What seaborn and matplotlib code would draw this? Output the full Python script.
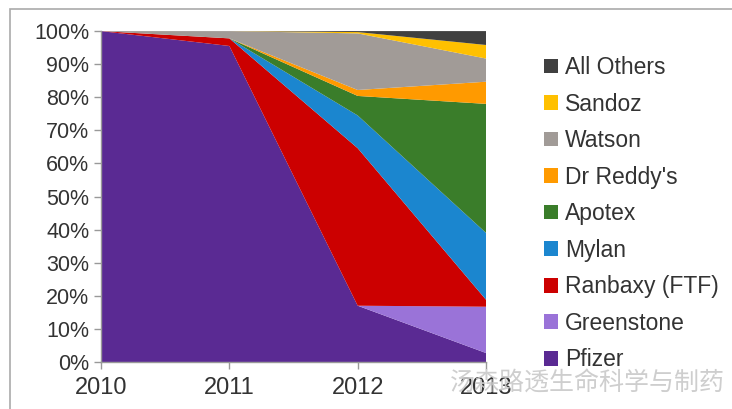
import matplotlib
matplotlib.use("Agg")
import matplotlib.pyplot as plt
import matplotlib.patches as mpatches
import seaborn as sns
import pandas as pd

years = [2010, 2011, 2012, 2013]
companies = ["Pfizer", "Greenstone", "Ranbaxy (FTF)", "Mylan", "Apotex",
             "Dr Reddy's", "Watson", "Sandoz", "All Others"]

# market share (%) per year
pfizer = [100.0, 95.5, 17.0, 2.7]
greenstone = [0.0, 0.0, 0.0, 14.0]
ranbaxy = [0.0, 2.3, 47.6, 2.1]
mylan = [0.0, 0.0, 9.9, 20.2]
apotex = [0.0, 0.0, 5.9, 39.0]
dr_reddys = [0.0, 0.0, 1.8, 6.7]
watson = [0.0, 2.2, 17.1, 7.0]
sandoz = [0.0, 0.0, 0.4, 4.1]
all_others = [0.0, 0.0, 0.3, 4.2]

colors = ["#5a2a93", "#9a73d8", "#cc0000", "#1b86cf", "#3a7d2a",
          "#ff9a00", "#a19b97", "#ffc000", "#404040"]

df = pd.DataFrame({
    "Pfizer": pfizer, "Greenstone": greenstone, "Ranbaxy (FTF)": ranbaxy,
    "Mylan": mylan, "Apotex": apotex, "Dr Reddy's": dr_reddys,
    "Watson": watson, "Sandoz": sandoz, "All Others": all_others,
}, index=years)

sns.set_theme(style="white")
plt.rcParams["font.family"] = ["Liberation Sans", "DejaVu Sans"]
text_col = "#333333"

fig = plt.figure(figsize=(7.32, 4.09), dpi=100)
ax = fig.add_axes([0.138, 0.115, 0.526, 0.809])

ax.stackplot(df.index, [df[c] for c in companies], colors=colors,
             edgecolor="none", linewidth=0)

ax.set_xlim(2010, 2013)
ax.set_ylim(0, 100)
ax.set_xticks(years)
ax.set_xticklabels([str(y) for y in years], fontsize=17, color=text_col)
ax.set_yticks(range(0, 101, 10))
ax.set_yticklabels([f"{v}%" for v in range(0, 101, 10)], fontsize=15.5, color=text_col)
ax.tick_params(axis="both", direction="out", length=5, width=1, color="#999999",
               left=True, bottom=True)
ax.tick_params(axis="x", pad=6)
for s in ["top", "right"]:
    ax.spines[s].set_visible(False)
for s in ["left", "bottom"]:
    ax.spines[s].set_color("#999999")
    ax.spines[s].set_linewidth(1)

handles = [mpatches.Patch(facecolor=c, edgecolor="none") for c in colors]
leg = fig.legend(handles[::-1], companies[::-1], loc="upper left",
                 bbox_to_anchor=(0.731, 0.885), frameon=False, fontsize=16.5,
                 handlelength=0.6, handleheight=0.6, handletextpad=0.3,
                 labelspacing=0.59, borderaxespad=0)
for t in leg.get_texts():
    t.set_color(text_col)

# watermark
fig.text(0.99, 0.063, "汤森路透生命科学与制药", ha="right", va="center",
         fontsize=18, color="#c9c9c9", alpha=0.9,
         family=["Noto Sans CJK SC", "DejaVu Sans"])

# outer frame
fig.patches.append(mpatches.Rectangle((10 / 732, -0.01), 1.0, 1 - 9 / 409 + 0.01,
                                      transform=fig.transFigure, fill=False,
                                      edgecolor="#aaaaaa", linewidth=1.2))

fig.savefig("out.png", dpi=100)
